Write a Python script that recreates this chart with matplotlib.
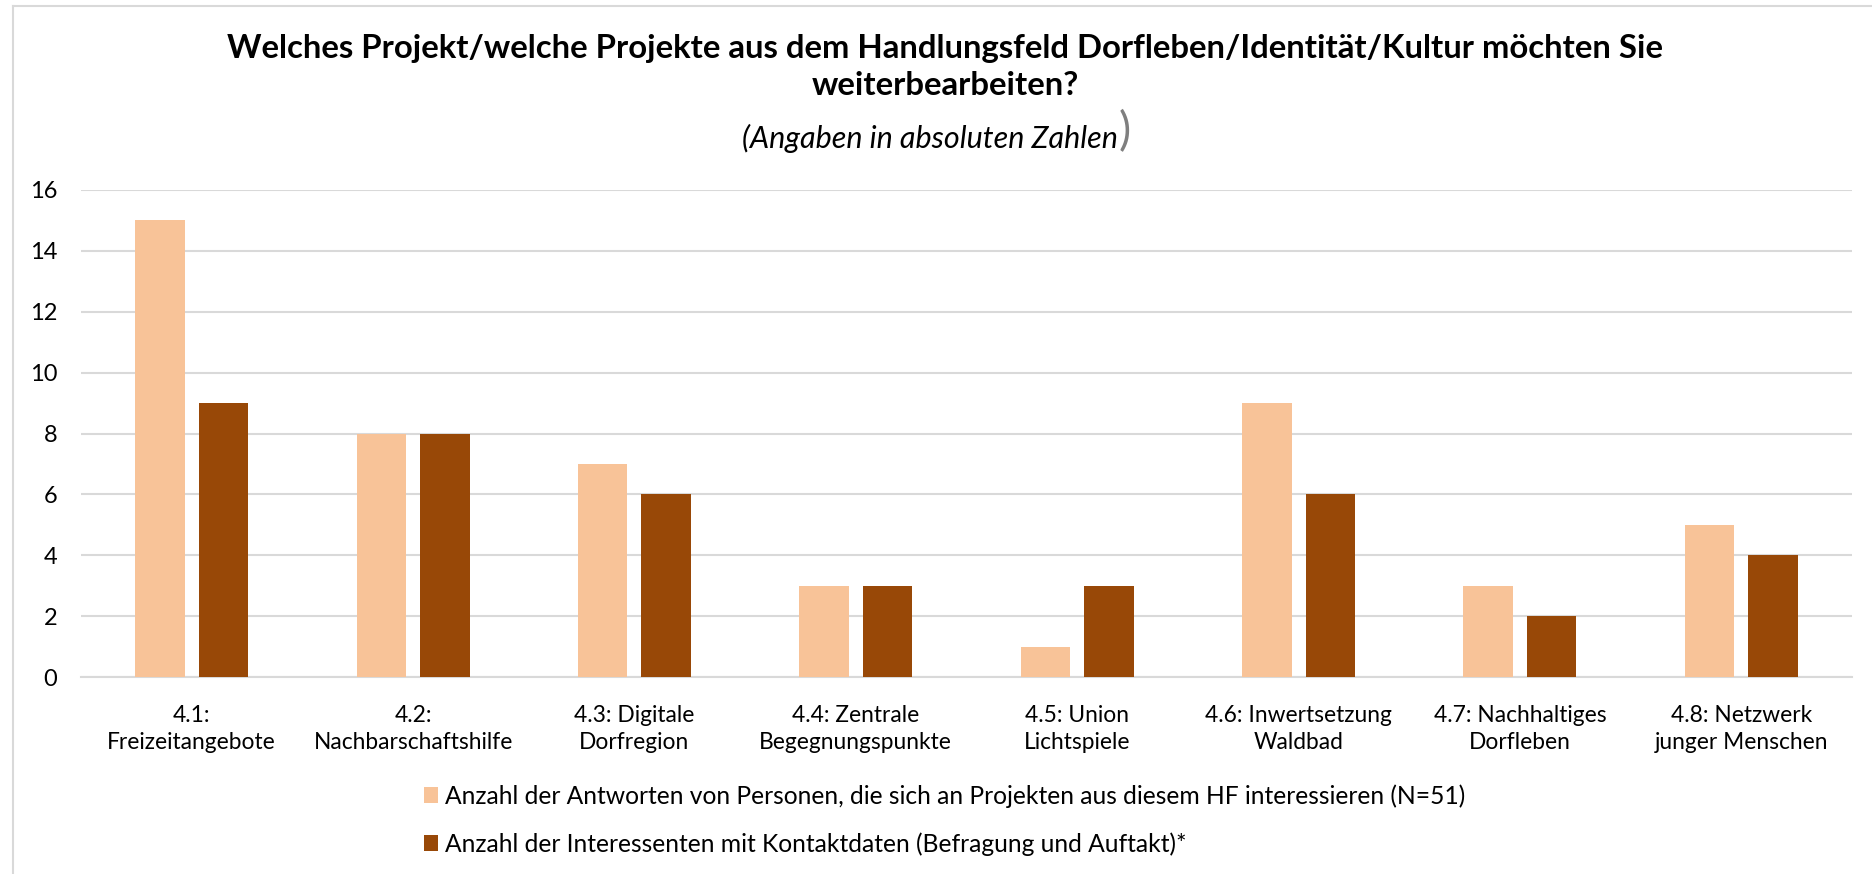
import numpy as np
import matplotlib
matplotlib.use("Agg")
import matplotlib.pyplot as plt
from matplotlib.lines import Line2D

# --- data ---
categories = [
    "4.1:\nFreizeitangebote",
    "4.2:\nNachbarschaftshilfe",
    "4.3: Digitale\nDorfregion",
    "4.4: Zentrale\nBegegnungspunkte",
    "4.5: Union\nLichtspiele",
    "4.6: Inwertsetzung\nWaldbad",
    "4.7: Nachhaltiges\nDorfleben",
    "4.8: Netzwerk\njunger Menschen",
]
antworten = [15, 8, 7, 3, 1, 9, 3, 5]
kontakte = [9, 8, 6, 3, 3, 6, 2, 4]
y_ticks = [0, 2, 4, 6, 8, 10, 12, 14, 16]

label_antworten = "Anzahl der Antworten von Personen, die sich an Projekten aus diesem HF interessieren (N=51)"
label_kontakte = "Anzahl der Interessenten mit Kontaktdaten (Befragung und Auftakt)*"
title = "Welches Projekt/welche Projekte aus dem Handlungsfeld Dorfleben/Identität/Kultur möchten Sie\nweiterbearbeiten?"
subtitle = "(Angaben in absoluten Zahlen"

light = "#F8C398"
dark = "#984807"
grid_col = "#d9d9d9"

plt.rcParams["font.family"] = ["Lato", "DejaVu Sans"]

W, H = 1872, 874
fig = plt.figure(figsize=(W / 100, H / 100), dpi=100)

# chart frame (left and top edge only visible)
fig.add_artist(Line2D([13 / W, 13 / W], [0, 1 - 6 / H], color=grid_col, lw=1.5))
fig.add_artist(Line2D([13 / W, 1], [1 - 6 / H, 1 - 6 / H], color=grid_col, lw=1.5))

ax = fig.add_axes([81 / W, 1 - 677 / H, 1771 / W, 487 / H])

x = np.arange(len(categories))
bw = 0.224
off = 0.1434
ax.bar(x - off, antworten, bw, color=light, label=label_antworten, zorder=3)
ax.bar(x + off, kontakte, bw, color=dark, label=label_kontakte, zorder=3)

ax.set_xlim(-0.5, len(categories) - 0.5)
ax.set_ylim(0, 16)
ax.set_yticks(y_ticks)
ax.set_xticks(x)
ax.set_xticklabels(categories, fontsize=16.4, linespacing=1.35)
ax.tick_params(axis="y", labelsize=17, length=0, pad=17)
ax.tick_params(axis="x", length=0, pad=20)
ax.yaxis.grid(True, color=grid_col, lw=1.5, zorder=0)
ax.set_axisbelow(True)
for s in ["top", "right", "left"]:
    ax.spines[s].set_visible(False)
ax.spines["bottom"].set_color(grid_col)
ax.spines["bottom"].set_linewidth(1.5)

fig.text(945 / W, 1 - 67 / H, title, ha="center", va="center", fontsize=23.7,
         fontweight="bold", linespacing=1.35)
sub = fig.text(930 / W, 1 - 138 / H, subtitle, ha="center", va="center",
               fontsize=22, style="italic")
fig.canvas.draw()
bb = sub.get_window_extent()
fig.text((bb.x1 + 1) / W, 1 - 132 / H, ")", ha="left", va="center",
         fontsize=33, color="#7f7f7f")

ax.legend(loc="upper left", bbox_to_anchor=(424 / W, 1 - 784 / H),
          bbox_transform=fig.transFigure, frameon=False, fontsize=17.7,
          handlelength=0.55, handleheight=0.6, handletextpad=0.3,
          labelspacing=1.0, borderpad=0, borderaxespad=0)

fig.savefig("out.png", dpi=100)
